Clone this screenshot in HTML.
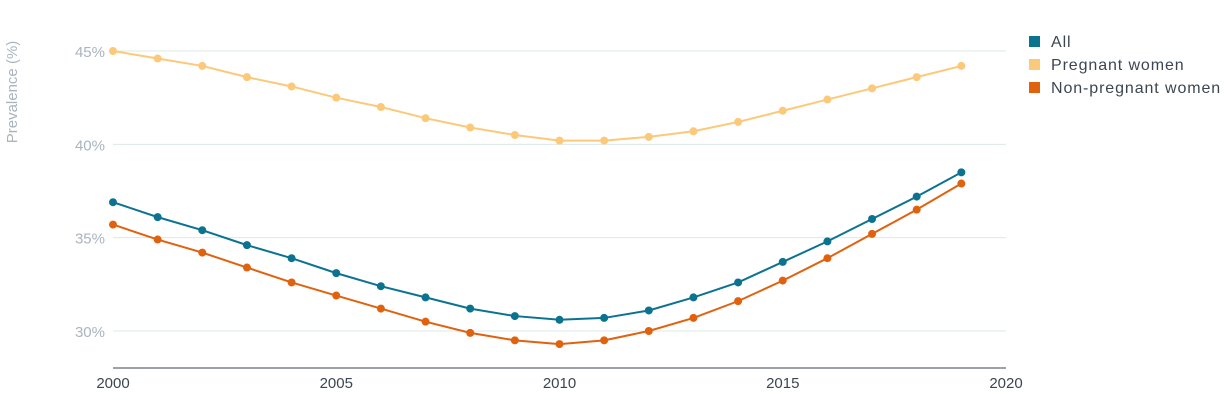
<!DOCTYPE html>
<html><head><meta charset="utf-8"><style>
body{margin:0;background:#fff;font-family:"Liberation Sans",sans-serif;}
svg text{font-family:"Liberation Sans",sans-serif;}
.lg{font-size:16px;letter-spacing:0.9px;}
</style></head><body>
<svg id="chart" width="1230" height="403" xmlns="http://www.w3.org/2000/svg">
<g id="grid"></g>
<g id="axes"></g>
<g id="series"></g>
<text transform="translate(17,92) rotate(-90)" text-anchor="middle" font-size="15" fill="#a9b4bf">Prevalence (%)</text>
<g>
<g><rect x="1029" y="36" width="11" height="11" fill="#0b7390"/><text class="lg" x="1051" y="47" fill="#3c4650">All</text></g>
<g><rect x="1029" y="59" width="11" height="11" fill="#fbc979"/><text class="lg" x="1051" y="70" fill="#3c4650">Pregnant women</text></g>
<g><rect x="1029" y="82" width="11" height="11" fill="#e0620f"/><text class="lg" x="1051" y="93" fill="#3c4650">Non-pregnant women</text></g>
</g>
</svg>
<script>
const years=[2000,2001,2002,2003,2004,2005,2006,2007,2008,2009,2010,2011,2012,2013,2014,2015,2016,2017,2018,2019];
const pregnant=[45,44.6,44.2,43.6,43.1,42.5,42.0,41.4,40.9,40.5,40.2,40.2,40.4,40.7,41.2,41.8,42.4,43.0,43.6,44.2];
const all=[36.9,36.1,35.4,34.6,33.9,33.1,32.4,31.8,31.2,30.8,30.6,30.7,31.1,31.8,32.6,33.7,34.8,36.0,37.2,38.5];
const nonPregnant=[35.7,34.9,34.2,33.4,32.6,31.9,31.2,30.5,29.9,29.5,29.3,29.5,30.0,30.7,31.6,32.7,33.9,35.2,36.5,37.9];
const yTicks=[30,35,40,45];
const xTicks=[2000,2005,2010,2015,2020];
const NS="http://www.w3.org/2000/svg";
function x(v){return 113+(v-2000)*(1006-113)/20;}
function y(v){return 331-(v-30)*(280/15);}
function mk(t,a,p){const e=document.createElementNS(NS,t);for(const k in a)e.setAttribute(k,a[k]);p.appendChild(e);return e;}
const grid=document.getElementById('grid'),axes=document.getElementById('axes'),ser=document.getElementById('series');
yTicks.forEach(t=>{
 const l=mk('line',{x1:113,x2:1006,y1:y(t),y2:y(t),stroke:'#dce9e5','stroke-width':1},grid);
 
 
 const tx=mk('text',{x:105,y:y(t)+6,'text-anchor':'end','font-size':15,fill:'#a9b4bf'},axes);
 tx.textContent=t+'%';
 
 
});
const base=mk('line',{x1:113,x2:1006,y1:368,y2:368,stroke:'#3c4650','stroke-width':1},axes);


xTicks.forEach(t=>{
 const tx=mk('text',{x:x(t),y:388,'text-anchor':'middle','font-size':15,fill:'#3c4650'},axes);
 tx.textContent=t;
 
 
});
function draw(data,color,name){
 const g=mk('g',{},ser);
 
 
 const pl=mk('polyline',{points:data.map((v,i)=>x(years[i])+','+y(v)).join(' '),fill:'none',stroke:color,'stroke-width':2},g);
 
 
 data.forEach((v,i)=>{
  const c=mk('circle',{cx:x(years[i]),cy:y(v),r:4,fill:color},g);
  
  
 });
}
draw(pregnant,'#fbc979','pregnant');
draw(all,'#0b7390','all');
draw(nonPregnant,'#e0620f','non-pregnant');
</script>
</body></html>
